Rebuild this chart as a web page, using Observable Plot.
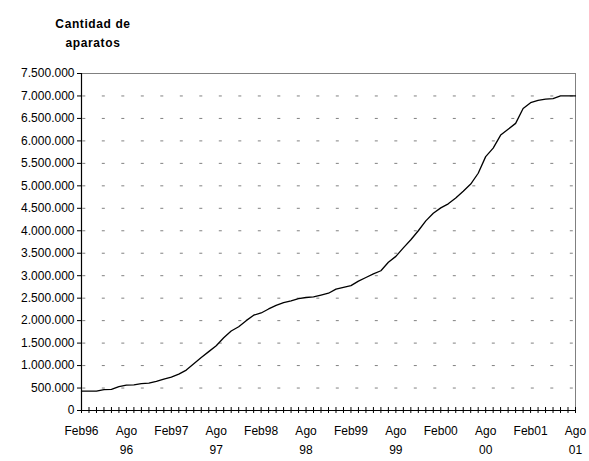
<!DOCTYPE html>
<html>
<head>
<meta charset="utf-8">
<script src="https://cdn.jsdelivr.net/npm/d3@7"></script>
<script src="https://cdn.jsdelivr.net/npm/@observablehq/plot@0.6"></script>
<style>
  body { margin: 0; background: #fff; }
  #wrap { position: relative; width: 589px; height: 461px; font-family: "Liberation Sans", Arial, sans-serif; }
  #title { position: absolute; left: 40px; top: 15px; width: 106px; text-align: center; font-size: 12px; font-weight: bold; line-height: 19px; letter-spacing: 0.6px; color: #000; }
</style>
</head>
<body>
<div id="wrap">
  <div id="chart"></div>
  <div id="title">Cantidad de<br>aparatos</div>
</div>
<script>
// Monthly series Feb96 .. Ago01 (67 months)
const monthIndex = d3.range(0, 67);
const aparatos = [
  430000, 430000, 430000, 465000, 470000, 530000, 565000, 570000, 600000, 610000,
  650000, 700000, 745000, 810000, 900000, 1040000, 1180000, 1310000, 1440000, 1620000,
  1770000, 1865000, 2000000, 2120000, 2170000, 2260000, 2340000, 2400000, 2440000, 2490000,
  2515000, 2530000, 2570000, 2610000, 2700000, 2740000, 2780000, 2880000, 2960000, 3040000,
  3110000, 3300000, 3430000, 3620000, 3800000, 4000000, 4220000, 4390000, 4510000, 4600000,
  4730000, 4880000, 5040000, 5280000, 5650000, 5840000, 6130000, 6260000, 6390000, 6720000,
  6850000, 6900000, 6930000, 6940000, 7000000, 7000000, 7000000
];
const tickPositions = [0, 6, 12, 18, 24, 30, 36, 42, 48, 54, 60, 66];
const tickLabels = ["Feb96", "Ago\n96", "Feb97", "Ago\n97", "Feb98", "Ago\n98",
                    "Feb99", "Ago\n99", "Feb00", "Ago\n00", "Feb01", "Ago\n01"];
const yTicks = d3.range(0, 7500001, 500000);
const gridValues = d3.range(500000, 7000001, 500000);

const data = monthIndex.map((i) => ({i, v: aparatos[i]}));
const esFormat = d3.formatLocale({decimal: ",", thousands: ".", grouping: [3], currency: ["", ""]}).format(",d");

const chart = Plot.plot({
  width: 589,
  height: 461,
  marginLeft: 81,
  marginRight: 14,
  marginTop: 73,
  marginBottom: 51,
  style: {fontFamily: "Liberation Sans, Arial, sans-serif", fontSize: "12px", background: "#fff", color: "#000"},
  x: {type: "linear", domain: [0, 66]},
  y: {type: "linear", domain: [0, 7500000]},
  marks: [
    Plot.ruleY(gridValues, {stroke: "#808080", strokeWidth: 1, strokeDasharray: "3 16.5", strokeDashoffset: -1.3}),
    Plot.ruleY([7500000], {stroke: "#808080", strokeWidth: 1}),
    Plot.ruleX([66], {stroke: "#808080", strokeWidth: 1}),
    Plot.line(data, {x: "i", y: "v", stroke: "#000", strokeWidth: 1.3}),
    Plot.ruleX([0], {stroke: "#000", strokeWidth: 1.2}),
    Plot.ruleY([0], {stroke: "#000", strokeWidth: 1.2}),
    Plot.ruleX(monthIndex, {x: (d) => d, y1: 0, y2: 0, insetTop: -3, insetBottom: -3, stroke: "#000", strokeWidth: 1}),
    Plot.axisY({ticks: yTicks, tickFormat: esFormat, tickSize: 4, tickPadding: 3, label: null, fontSize: 12}),
    Plot.axisX({ticks: tickPositions, tickFormat: (d) => tickLabels[tickPositions.indexOf(d)], tickSize: 0, tickPadding: 11, lineHeight: 1.6, label: null, fontSize: 12})
  ]
});
document.getElementById("chart").appendChild(chart);
</script>
</body>
</html>
